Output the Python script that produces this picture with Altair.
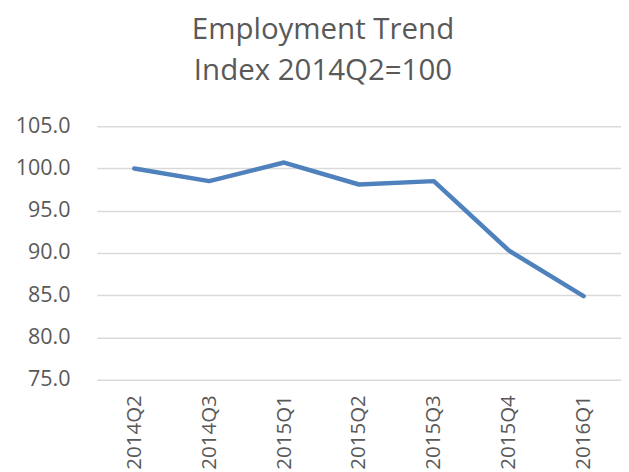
import altair as alt
import pandas as pd

quarters = ["2014Q2", "2014Q3", "2015Q1", "2015Q2", "2015Q3", "2015Q4", "2016Q1"]
index_values = [100.0, 98.5, 100.7, 98.1, 98.5, 90.3, 84.9]
y_ticks = [75, 80, 85, 90, 95, 100, 105]

df = pd.DataFrame({"quarter": quarters, "value": index_values})

FONT = "Open Sans"
GREY = "#595959"

chart = alt.Chart(df).mark_line(
    color="#4F81BD", strokeWidth=4.5, strokeCap="round", strokeJoin="round"
).encode(
    x=alt.X("quarter:N", sort=quarters,
            scale=alt.Scale(type="point", padding=0.5),
            axis=alt.Axis(title=None, labelAngle=270, labelPadding=15, ticks=False,
                          domain=False, grid=False, labelFont=FONT, labelFontSize=20.5,
                          labelColor=GREY)),
    y=alt.Y("value:Q", scale=alt.Scale(domain=[75, 105], nice=False, zero=False),
            axis=alt.Axis(title=None, values=y_ticks, format=".1f", ticks=False,
                          domain=False, grid=True, gridColor="#D9D9D9", gridWidth=1.5,
                          labelPadding=27, labelFont=FONT, labelFontSize=21.5,
                          labelColor=GREY)),
).properties(
    width=525, height=254,
    title=alt.TitleParams(["Employment Trend", "Index 2014Q2=100"], font=FONT,
                          fontSize=29.5, fontWeight="normal", color=GREY,
                          lineHeight=41, anchor="middle", dx=-36, offset=29),
    autosize=alt.AutoSizeParams(type="none"),
    padding={"left": 89, "top": 118, "right": 0, "bottom": 90},
).configure_view(stroke=None)

chart.save("out.html", embed_options={"renderer": "svg", "actions": False})
